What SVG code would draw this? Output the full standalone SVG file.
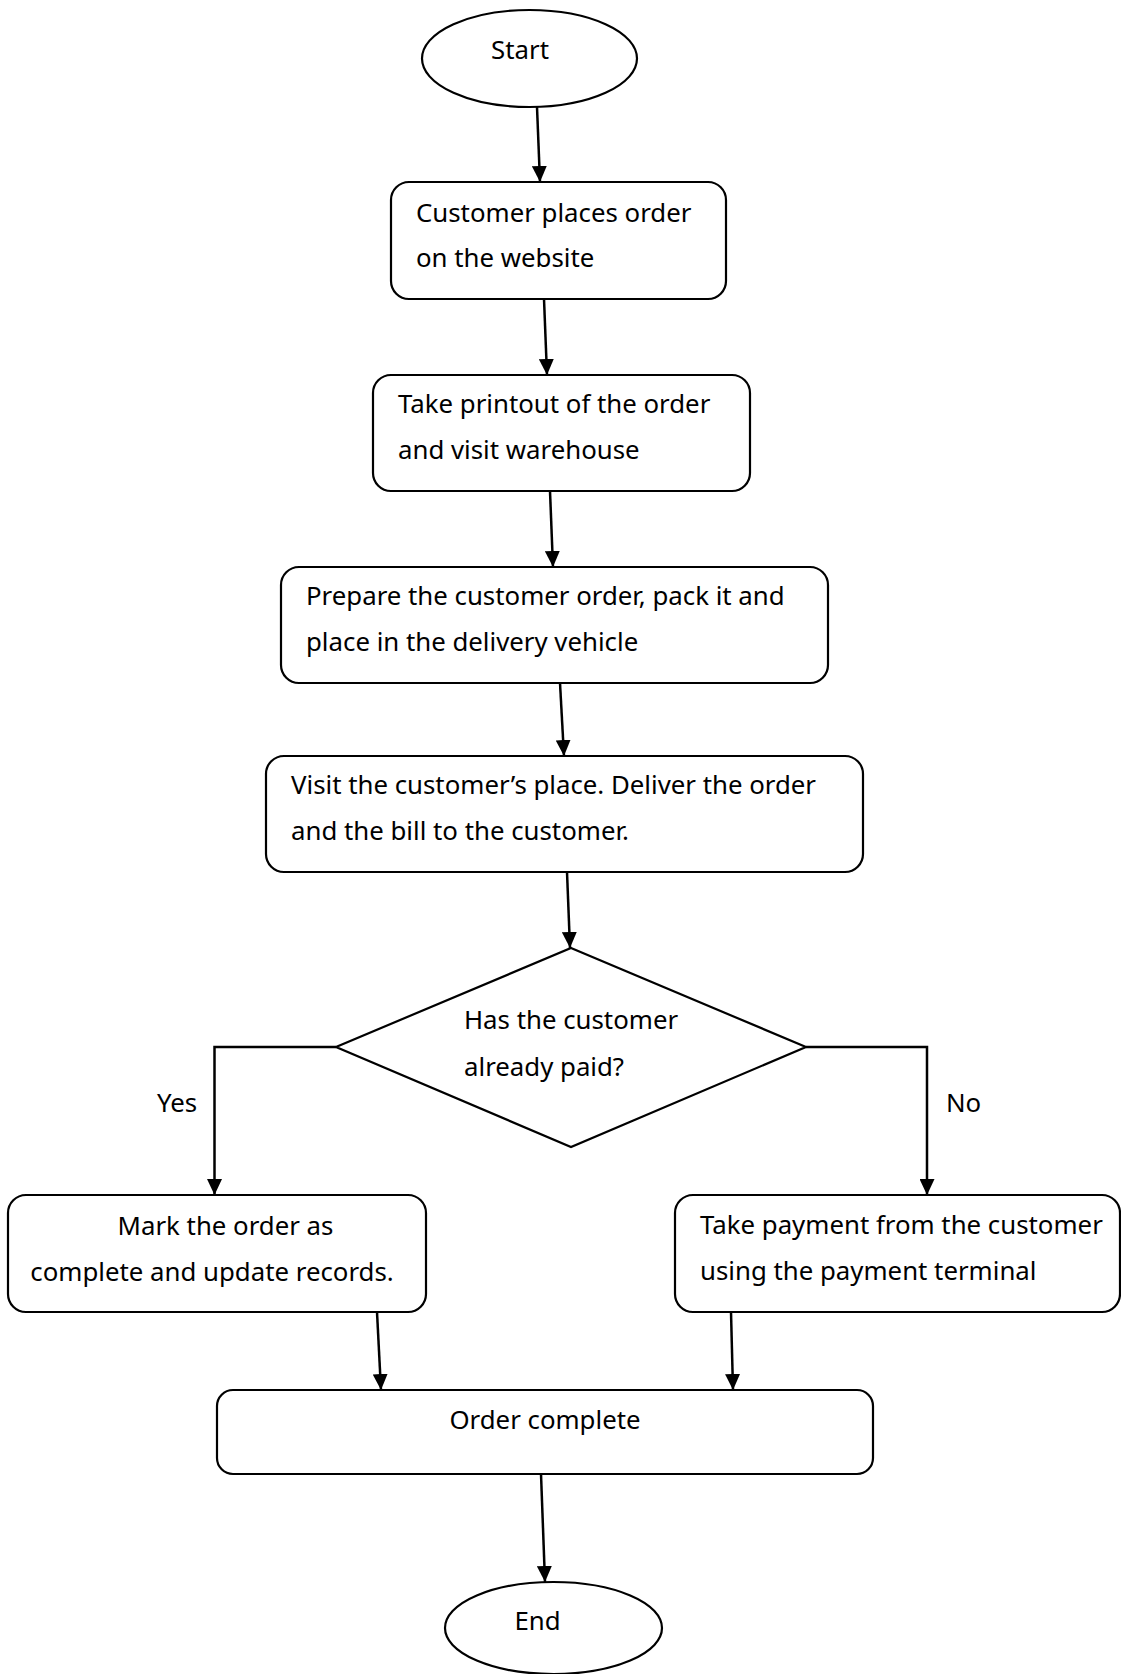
<svg xmlns="http://www.w3.org/2000/svg" width="1121" height="1674" viewBox="0 0 1121 1674">
<style>
.s{fill:#fff;stroke:#000;stroke-width:2.2}
.t{font-family:"Noto Sans","Liberation Sans",sans-serif;font-size:25.8px;fill:#000}
.c{text-anchor:middle}
.e{fill:none;stroke:#000;stroke-width:2.5}
</style>
<defs>
<marker id="ah" markerUnits="userSpaceOnUse" markerWidth="16" markerHeight="15" refX="16" refY="7.5" orient="auto">
<path d="M0,0 L16,7.5 L0,15 z" fill="#000"/>
</marker>
</defs>
<g id="connectors">
<line class="e" x1="537" y1="107" x2="540" y2="182" marker-end="url(#ah)"/>
<line class="e" x1="544" y1="299" x2="547" y2="375" marker-end="url(#ah)"/>
<line class="e" x1="550" y1="491" x2="553" y2="567" marker-end="url(#ah)"/>
<line class="e" x1="560" y1="683" x2="564" y2="756" marker-end="url(#ah)"/>
<line class="e" x1="567" y1="872" x2="570" y2="948" marker-end="url(#ah)"/>
<path class="e" d="M336,1047 H214.5 V1195" marker-end="url(#ah)"/>
<path class="e" d="M806,1047 H927 V1195" marker-end="url(#ah)"/>
<line class="e" x1="377" y1="1312" x2="381" y2="1390" marker-end="url(#ah)"/>
<line class="e" x1="731" y1="1312" x2="733" y2="1390" marker-end="url(#ah)"/>
<line class="e" x1="541" y1="1474" x2="545" y2="1582" marker-end="url(#ah)"/>
<text class="t" x="157" y="1112">Yes</text>
<text class="t" x="946" y="1112">No</text>
</g>
<g id="start">
<ellipse class="s" cx="529.5" cy="58.5" rx="107.5" ry="48.5"/>
<text class="t c" x="520" y="59">Start</text>
</g>
<g id="place-order">
<rect class="s" x="391" y="182" width="335" height="117" rx="18"/>
<text class="t" x="416" y="222">Customer places order</text>
<text class="t" x="416" y="267">on the website</text>
</g>
<g id="printout">
<rect class="s" x="373" y="375" width="377" height="116" rx="18"/>
<text class="t" x="398" y="413">Take printout of the order</text>
<text class="t" x="398" y="459">and visit warehouse</text>
</g>
<g id="prepare">
<rect class="s" x="281" y="567" width="547" height="116" rx="18"/>
<text class="t" x="306" y="605">Prepare the customer order, pack it and</text>
<text class="t" x="306" y="651">place in the delivery vehicle</text>
</g>
<g id="deliver">
<rect class="s" x="266" y="756" width="597" height="116" rx="18"/>
<text class="t" x="291" y="794">Visit the customer’s place. Deliver the order</text>
<text class="t" x="291" y="840">and the bill to the customer.</text>
</g>
<g id="decision">
<polygon class="s" points="571,948 806,1047 571,1147 336,1047"/>
<text class="t" x="464" y="1029">Has the customer</text>
<text class="t" x="464" y="1076">already paid?</text>
</g>
<g id="mark-complete">
<rect class="s" x="8" y="1195" width="418" height="117" rx="18"/>
<text class="t c" x="225.5" y="1235">Mark the order as</text>
<text class="t c" x="212" y="1281">complete and update records.</text>
</g>
<g id="take-payment">
<rect class="s" x="675" y="1195" width="445" height="117" rx="18"/>
<text class="t" x="700" y="1234">Take payment from the customer</text>
<text class="t" x="700" y="1280">using the payment terminal</text>
</g>
<g id="order-complete">
<rect class="s" x="217" y="1390" width="656" height="84" rx="16"/>
<text class="t c" x="545" y="1429">Order complete</text>
</g>
<g id="end">
<ellipse class="s" cx="553.5" cy="1628" rx="108.5" ry="46"/>
<text class="t c" x="537.5" y="1630">End</text>
</g>
</svg>
